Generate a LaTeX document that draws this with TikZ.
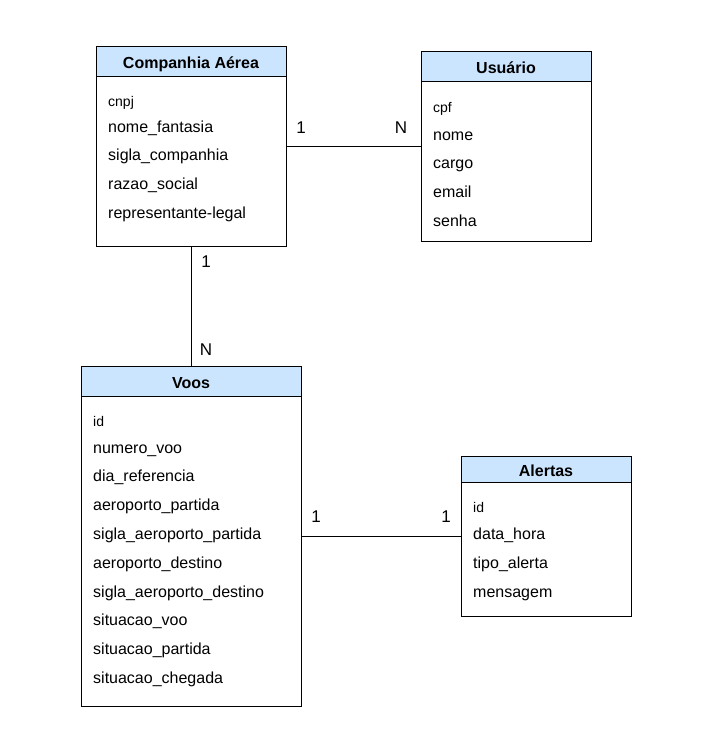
\documentclass[tikz,border=0pt]{standalone}
\usepackage{fontspec}
\setmainfont{Liberation Sans}
\usetikzlibrary{positioning}

\definecolor{headblue}{RGB}{204,229,255}

\begin{document}
\begin{tikzpicture}[x=1pt, y=-1pt,
    entity/.style={draw, line width=0.9pt, rectangle, inner sep=0pt},
    header/.style={draw, line width=0.9pt, fill=headblue, rectangle, inner sep=0pt,
      anchor=north, text height=15pt, text depth=0pt,
      font=\fontsize{16}{19}\selectfont\bfseries},
    attr/.style={anchor=west, inner sep=0pt, text height=1.6ex, text depth=0.4ex,
      yshift=-2.5pt, font=\fontsize{16}{19}\selectfont},
    key/.style={anchor=west, inner sep=0pt, text height=1.6ex, text depth=0.4ex,
      yshift=-2.5pt, font=\fontsize{14}{17}\selectfont},
    card/.style={inner sep=0pt, font=\fontsize{17}{20}\selectfont}]
    \useasboundingbox (0,0) rectangle (706,743);

    %Entities

    \node[entity, minimum width=190pt, minimum height=200pt] (companhia) at (191,146) {};
    \node[header, minimum width=190pt, minimum height=30pt] (companhia-h) at (companhia.north) {Companhia Aérea};
    \node[key] (cnpj) at (108,101) {cnpj};
    \node[attr] (nomefantasia) at (108,127) {nome\_fantasia};
    \node[attr] (siglacompanhia) at (108,155) {sigla\_companhia};
    \node[attr] (razaosocial) at (108,184) {razao\_social};
    \node[attr] (representante) at (108,213) {representante-legal};

    \node[entity, minimum width=170pt, minimum height=190pt] (usuario) at (506,146) {};
    \node[header, minimum width=170pt, minimum height=30pt] (usuario-h) at (usuario.north) {Usuário};
    \node[key] (cpf) at (433,107) {cpf};
    \node[attr] (nome) at (433,135) {nome};
    \node[attr] (cargo) at (433,163) {cargo};
    \node[attr] (email) at (433,192) {email};
    \node[attr] (senha) at (433,221) {senha};

    \node[entity, minimum width=220pt, minimum height=340pt] (voos) at (191,536) {};
    \node[header, minimum width=220pt, minimum height=30pt] (voos-h) at (voos.north) {Voos};
    \node[key] (idvoo) at (93,421) {id};
    \node[attr] (numerovoo) at (93,448) {numero\_voo};
    \node[attr] (diareferencia) at (93,476) {dia\_referencia};
    \node[attr] (aeroportopartida) at (93,505) {aeroporto\_partida};
    \node[attr] (siglapartida) at (93,534) {sigla\_aeroporto\_partida};
    \node[attr] (aeroportodestino) at (93,563) {aeroporto\_destino};
    \node[attr] (sigladestino) at (93,592) {sigla\_aeroporto\_destino};
    \node[attr] (situacaovoo) at (93,620) {situacao\_voo};
    \node[attr] (situacaopartida) at (93,649) {situacao\_partida};
    \node[attr] (situacaochegada) at (93,678) {situacao\_chegada};

    \node[entity, minimum width=170pt, minimum height=160pt] (alertas) at (546,536) {};
    \node[header, minimum width=170pt, minimum height=26pt] (alertas-h) at (alertas.north) {Alertas};
    \node[key] (idalerta) at (473,507) {id};
    \node[attr] (datahora) at (473,534) {data\_hora};
    \node[attr] (tipoalerta) at (473,563) {tipo\_alerta};
    \node[attr] (mensagem) at (473,592) {mensagem};

    %Relations

    \draw[line width=0.9pt] (companhia.east) -- (usuario.west);
    \draw[line width=0.9pt] (companhia.south) -- (voos-h.north);
    \draw[line width=0.9pt] (voos.east) -- (alertas.west);

    %Cardinalities

    \node[card] (c1) at (301,128) {1};
    \node[card] (c2) at (401,128) {N};
    \node[card] (c3) at (206,262) {1};
    \node[card] (c4) at (206,350) {N};
    \node[card] (c5) at (316,517) {1};
    \node[card] (c6) at (446,517) {1};

\end{tikzpicture}
\end{document}
